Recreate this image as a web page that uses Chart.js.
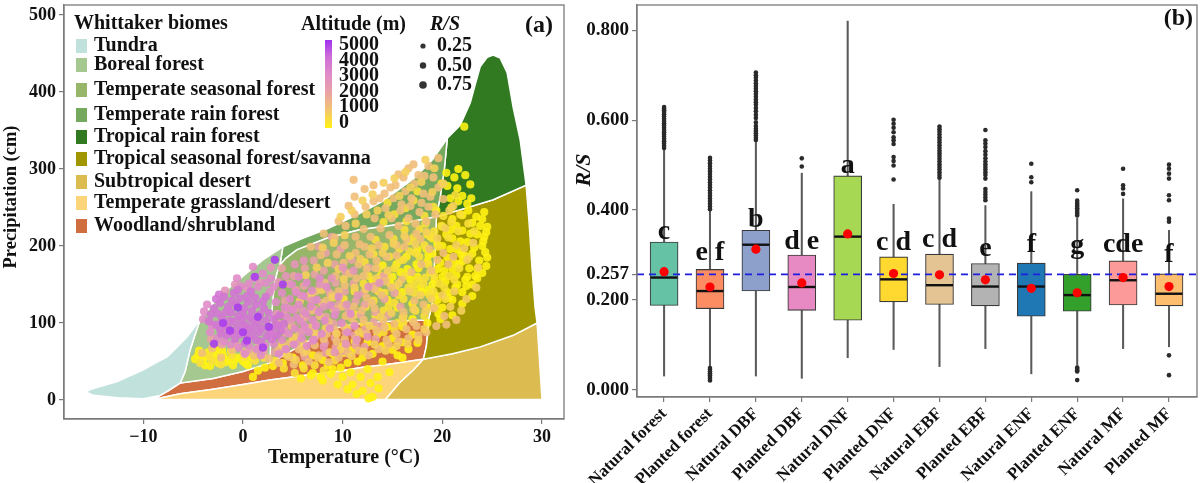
<!DOCTYPE html>
<html><head><meta charset="utf-8">
<script src="https://cdn.jsdelivr.net/npm/chart.js@4.4.0/dist/chart.umd.min.js"></script>
<style>
html,body{margin:0;padding:0;background:#fff;}
#wrap{position:relative;width:1200px;height:483px;overflow:hidden;}
#a{position:absolute;left:0;top:0;width:570px;height:483px;}
#b{position:absolute;left:570px;top:0;width:630px;height:483px;}
</style></head><body>
<div id="wrap"><div id="a"><canvas id="ca"></canvas></div><div id="b"><canvas id="cb"></canvas></div></div>
<script>
const SERIF = "'Liberation Serif','Times New Roman',serif";

// ---------- Panel (a) data ----------
const biomeNames = ['Tundra','Boreal forest','Temperate seasonal forest','Temperate rain forest','Tropical rain forest','Tropical seasonal forest/savanna','Subtropical desert','Temperate grassland/desert','Woodland/shrubland'];
const biomeColors = ['#C1E1DD','#A5C790','#97B669','#75A95E','#317A22','#A09700','#DCBB50','#FCD57A','#D16E3F'];

const tundraPoly = [[-10,1.5],[-12.6,3],[-15,6],[-15.7,10],[-15.5,12.5],[-15,15],[-12.6,24],[-10,39],[-8.8,48],[-7.6,56],[-6.5,70],[-5.6,82],[-4.3,104],[-4.8,85],[-5.3,65],[-5.8,37],[-6.3,22],[-7.5,12],[-8.3,6],[-10,1.5]];
const borealPoly = [[-6.3,22],[-5.8,37],[-5.3,65],[-4.8,85],[-4.3,104],[-2.9,127],[-2,139],[0.4,165],[2,182],[4.0,199],[3.7,175],[3.4,165],[3.1,145],[2.9,115],[2.8,85],[2.7,48],[0,37],[-3,28],[-6.3,22]];
const tempSeasonalPoly = [[2.7,48],[2.8,85],[2.9,115],[3.1,145],[3.4,165],[3.7,175],[4.3,184],[5.4,195],[8.4,210],[11.7,221],[15,227],[19.4,238],[19.3,200],[19.1,150],[19,126],[18.6,104],[16,103],[13,101],[11,98],[9,93],[7,80],[5,65],[2.7,48]];
const tempRainPoly = [[3.7,175],[4.0,199],[6,210],[8.4,222],[11.4,240],[14,258],[17.1,287],[19,312],[20.5,340],[20.2,300],[19.8,265],[19.4,238],[15,227],[11.7,221],[8.4,210],[5.4,195],[4.3,184],[3.7,175]];
const tropRainPoly = [[19.4,238],[19.8,265],[20.2,300],[20.5,340],[21.8,357],[22.8,386],[23.3,410],[23.8,433],[24.5,445],[25.1,448],[25.8,444],[26.5,425],[27.1,380],[27.8,338],[28.4,279],[25.1,260],[21.8,247],[19.4,238]];
const tropSeasonalPoly = [[19.4,238],[21.8,247],[25.1,260],[28.4,279],[28.7,230],[29,170],[29.3,120],[29.5,100],[27.1,84],[23.8,69],[21,60],[18.1,53],[18.4,70],[18.6,95],[18.6,104],[19,126],[19.1,150],[19.3,200],[19.4,238]];
const subtropDesertPoly = [[18.1,53],[21,60],[23.8,69],[27.1,84],[29.5,100],[29.7,60],[29.9,20],[30,0.5],[14.3,0.5],[15.7,22],[17.1,39],[18.1,53]];
const grasslandPoly = [[-9,0.5],[14.3,0.5],[15.7,22],[17.1,39],[18.1,53],[15,47],[11.7,42],[10,38],[5.7,31],[2.7,26],[0,20],[-3,14],[-6.3,8],[-9,0.5]];
const woodlandPoly = [[-9,0.5],[-6.3,8],[-3,14],[0,20],[2.7,26],[5.7,31],[10,38],[11.7,42],[15,47],[18.1,53],[18.4,70],[18.6,104],[16,103],[13,101],[11,98],[9,93],[7,80],[5,65],[2.7,48],[0,37],[-3,28],[-6.3,22],[-7.5,12],[-9,0.5]];
const biomePolys = [tundraPoly, borealPoly, tempSeasonalPoly, tempRainPoly, tropRainPoly, tropSeasonalPoly, subtropDesertPoly, grasslandPoly, woodlandPoly];

// sites: [temperature (°C), precipitation (cm)] grouped by altitude class
const ptsAlt0 = [[19,150],[20,160],[21,170],[22,180],[23,190],[24,200],[23.5,215],[24.5,225],[24,235],[23,230],[22,220],[21,210],[20,200],[19,190],[20.5,185],[21.5,195],[22.5,205],[23.5,170],[22.5,160],[21.5,150],[20.5,140],[19.5,130],[18.5,120],[20,120],[21,130],[22,140],[23,150],[24,165],[24.5,185],[22,240],[22.5,255],[22,265],[22.8,280],[21.5,275],[20.8,262],[22.2,355],[20.4,295],[21.6,300],[19.5,170],[18.5,180],[19,210],[20,225],[21,235],[17.5,160],[18,140],[17,125],[16.5,170],[17.5,195],[18.5,215],[16,140],[15,160],[14,175],[13,155],[14.5,130],[15.5,120],[17,105],[18.5,100],[16,95],[15,80],[14,70],[13,60],[12,55],[11,65],[10,70],[9,60],[8,52],[7,58],[6,65],[5,55],[4,48],[3,44],[12.5,75],[13.5,85],[14.5,95],[11,20],[12,12],[13,4],[10,30],[9,40],[8,25],[7,35],[6,45],[-4.5,58],[-4,52],[-3.5,62],[-3,55],[-2.5,48],[-2,58],[-1.5,52],[-1,45],[-0.5,55],[0,50],[-3.8,45],[-2.8,66],[-1.2,63],[0.5,45],[1.5,38],[2.2,42],[1,30],[10.5,48],[11.5,50],[12.5,40],[8.5,45],[15,65],[16,75],[17,85],[14,50],[16,55],[13.5,30],[15.5,100],[19.8,105],[21,110],[22,125],[23,135],
  [21.7,176],[22.7,171],[23.7,181],[24.3,192],[24.1,206],[24.4,218],[24.2,244],[23.8,226],[22.8,216],[21.8,206],[20.8,196],[19.8,178],[18.8,166],[17.8,146],[16.8,156],[15.8,166],[14.8,151],[13.8,161],[19.3,136],[20.3,154],[21.3,146],[22.3,156],[23.3,161],[21.9,189],[20.9,221],[19.4,246],[18.4,196],[17.4,176],[16.4,186],[15.4,176],[-4.8,53],[-3.7,56],[-2.7,59],[-1.7,49],[-0.8,52],[0.3,47],[-2.1,64],[-3.3,44],[-4.4,64],[0.8,55],[5.8,28],[6.8,32],[7.8,30],[8.8,34],[9.8,42],[10.8,36],[11.8,30],[12.8,22],[11.4,8],[12.6,2],[9.5,20],[10.5,14],[13.6,15],[14.7,36],[15.5,58],[16.6,66],[17.5,74],
  [19.2,156],[20.2,168],[21.2,178],[22.2,188],[23.2,198],[24.2,212],[23.4,238],[22.6,246],[21.4,226],[20.4,215],[19.5,202],[18.6,188],[17.6,171],[16.6,163],[21.4,162],[22.4,148],[23.5,158],[24.4,174],[20.6,133],[19.6,112],[18.6,143],[20.9,250],[21.6,258],[22.9,262],[20.5,278],[21.2,289],[22.3,292]];
const ptsAlt400 = [[15.2,171],[16.1,182],[17.3,191],[18.2,201],[17.1,211],[16.2,221],[15.1,209],[14.2,199],[13.1,189],[12.2,179],[13.3,208],[14.1,231],[15.2,241],[16.3,249],[17.1,259],[18.2,239],[19.1,251],[18.3,229],[19.2,219],[20.1,239],[16.2,161],[17.1,149],[18.3,159],[15.3,146],[14.2,139],[13.1,129],[12.3,121],[16.1,131],[17.2,139],[18.1,151],[19.2,161],[19.6,199],[20.6,211],[21.6,219],[12.1,151],[11.2,141],[10.1,131],[11.3,111],[12.1,99],[13.3,109],[14.1,116],[15.2,126],[16.1,109],[17.3,116],[18.2,109],[19.1,141],[20.2,146],[-3.1,51],[-2.2,46],[-1.1,58],[0.1,56],[1.2,51],[-4.3,48],[-3.4,57],[2.1,55],[3.2,51],[4.1,41],[5.2,35],[6.1,41],[7.2,45],[8.1,38],[9.2,51],[10.1,61],[11.2,76],[12.1,86],[13.2,96],[14.1,88],[15.2,91],[16.1,101],
  [14.6,161],[15.7,181],[16.7,193],[17.7,186],[18.6,176],[19.7,151],[20.7,161],[21.7,171],[22.7,186],[21.2,156],[20.3,131],[19.3,121],[18.7,136],[17.6,156],[16.6,146],[15.6,136],[14.6,121],[13.6,141],[12.6,161],[13.6,171],[14.7,186],[15.7,196],[16.7,206],[17.7,222],[18.8,212],[19.9,226],[20.9,231],[21.8,241],[22.6,229],[23.2,219],[16.4,232],[17.5,271],[14.5,256],[19.9,281],[21.3,266]];
const ptsAlt800 = [[4.4,58],[5.3,52],[6.4,63],[7.5,55],[8.7,62],[9.8,66],[10.9,57],[12.1,63],[13.2,72],[14.3,64],[15.4,70],[16.5,73],[17.6,78],[18.2,92],[3.9,72],[5.0,81],[6.1,74],[7.2,88],[8.3,93],[9.4,86],[10.5,93],[11.6,89],[12.7,96],[13.8,108],[14.9,113],[16.0,106],[17.1,118],[18.3,115],[5.7,128],[6.8,137],[7.9,143],[9.0,133],[10.1,157],[11.2,146],[12.3,144],[13.4,158],[14.5,168],[15.6,151],[16.7,141],[17.8,136],[18.9,131],[20.0,136],[6.3,162],[7.4,172],[8.5,178],[9.6,170],[10.7,187],[11.8,183],[12.9,197],[14.0,191],[15.1,203],[16.2,213],[17.3,202],[18.4,218],[19.5,210],[8.0,198],[9.1,204],[10.2,214],[11.3,229],[12.4,241],[13.5,246],[14.6,240],[15.7,265],[16.8,276],[17.9,283],[19.0,270],[20.1,281],[18.3,312],[19.2,301],[13.0,267],[14.1,282],[15.2,288],[16.3,296],[12.0,259],[10.9,246],[9.8,238],[20.7,246],[21.1,252],[20.3,223],[21.4,201],[22.2,197],[23.1,204],[22.5,182],[23.6,172],[21.2,141],[22.4,131],[23.4,146],[20.8,121],[21.9,116]];
const ptsAlt1200 = [[10.2,201],[11.3,212],[12.1,222],[13.2,236],[14.3,249],[15.1,262],[16.3,271],[17.2,281],[16.1,289],[15.3,279],[14.2,268],[13.1,258],[12.3,251],[11.2,241],[10.3,226],[9.2,211],[9.4,189],[10.1,178],[11.3,191],[12.2,199],[13.3,171],[12.1,161],[11.4,158],[10.2,149],[9.3,161],[8.2,152],[7.3,141],[8.4,129],[9.1,118],[10.3,109],[11.1,121],[12.4,133],[13.2,144],[14.3,154],[15.4,188],[16.2,199],[17.3,229],[18.1,268],[17.6,292],[19.1,289],[19.6,276],[20.1,261],[18.6,251],[17.7,244],[16.6,236],[15.6,226],[14.7,214],[13.6,201],[12.7,189],[11.6,176],[10.7,164],[9.6,141],[8.6,101],[7.7,109],[6.7,94],[5.6,84],[4.7,74],[3.6,66],[6.1,61],[7.2,71],[8.1,79],[9.2,91],[10.1,96],[11.2,99],[12.1,104],[13.2,119],[14.1,104],[15.2,99],[16.1,114],[17.2,129],[18.1,124],[19.1,119],[20.2,109],[20.6,176],[21.1,186],[20.1,191],[18.2,291],[13.1,279],[11.2,264],[8.1,216],[19.6,314],[16.6,301],[10.2,79],[5.1,46],[-4.1,61],[-3.1,67],[-2.2,55],[-1.1,65],[0.1,62],[1.1,58],[14.2,94],[17.1,101],
  [13.7,262],[14.8,276],[15.9,254],[16.9,262],[17.9,256],[18.8,264],[19.3,241],[18.4,232],[17.4,216],[16.4,209],[15.4,201],[14.4,186],[13.4,181],[12.4,170],[11.7,202],[12.8,212],[13.8,223],[14.9,236],[15.8,246],[16.8,252],[17.8,209],[18.7,196],[19.5,182],[18.9,168],[17.9,176],[16.9,166],[15.9,156],[14.9,146],[13.9,136],[12.9,126],[11.9,116],[10.9,106],[9.9,121],[8.9,136],[7.9,126],[6.9,116],[5.9,106],[4.9,96],[8.4,86],[9.4,76],[10.4,70],[11.4,80],[12.4,86],[13.4,90],[14.4,78],[15.4,86],[16.4,92],[17.4,96],[18.4,88],[19.4,96],[20.4,98],[21.4,104],[2.6,54],[3.6,48],[4.6,56],[5.6,66],[6.6,50],[7.6,58],[8.6,49],[9.6,55],[10.6,60],[11.6,64],[12.6,58],[13.6,66],[14.6,72],[15.6,76],[16.6,80],[17.6,84],[11.1,286],[12.2,274],[15.6,293],[17.1,306],[18.6,304],[9.6,232],[10.6,252],[7.8,188],[6.8,199]];
const ptsAlt2000 = [[4.2,129],[5.3,143],[6.1,148],[7.2,163],[8.1,168],[9.3,152],[10.2,141],[11.3,128],[12.1,139],[13.2,148],[5.2,118],[6.3,107],[7.2,118],[8.3,108],[9.1,99],[10.3,88],[11.2,84],[12.3,92],[13.1,101],[6.2,92],[7.3,83],[8.2,74],[9.3,68],[10.1,64],[5.4,76],[4.3,87],[3.6,99],[4.1,111],[7.1,181],[8.3,191],[9.2,176],[6.2,171],[5.1,161],[10.3,166],[11.1,151],[12.2,124],[13.3,114],[14.2,131],[14.1,161],[15.2,139],[3.2,62],[4.3,64],[2.1,63],[6.2,56],[8.3,61],[11.3,71],[12.2,69],[13.3,79],[9.2,81],[7.3,98],[6.6,133],[8.7,139],[9.6,124],[10.6,116],[4.6,151],[3.9,171],[7.6,199],[1.6,69],[0.7,64],[-0.6,71],[-2.1,72],[-3.2,79],[10.9,182],[12.6,172],[11.8,110],[14.6,110],[15.8,121],[9.8,196],[8.9,212],[13.8,96]];
const ptsAlt2600 = [[3.4,112],[4.6,119],[5.8,136],[6.9,129],[8.1,121],[9.3,115],[10.4,124],[11.5,136],[12.6,147],[13.7,152],[7.7,150],[8.9,158],[10.0,172],[11.1,168],[6.1,181],[5.2,176],[4.3,161],[3.6,153],[2.8,172],[1.7,152],[0.4,146],[-0.8,150],[-1.8,142],[5.9,89],[7.0,77],[8.1,69],[9.2,62],[10.3,73],[11.4,78],[12.5,82],[4.8,103],[6.0,116],[3.0,86],[4.1,92]];
const ptsAlt3000 = [[-3.6,124],[-3.1,96],[-2.6,80],[-1.9,76],[-1.2,72],[-0.4,68],[0.6,70],[1.4,66],[2.2,71],[3.1,73],[3.9,78],[4.6,86],[5.2,93],[5.8,102],[4.4,108],[5.0,117],[5.6,124],[6.3,112],[6.8,121],[7.4,130],[4.7,131],[3.9,139],[3.1,147],[2.3,152],[1.5,147],[0.6,151],[-0.2,148],[1.1,158],[2.0,164],[2.8,158],[5.3,140],[6.1,135],[6.9,142],[7.6,114],[8.2,103],[7.3,96],[6.6,88],[5.9,80],[5.1,72],[4.3,66],[6.4,70],[7.1,78],[7.9,86],[8.7,93],[9.2,110],[8.8,123],[9.6,134],[8.4,147],[7.7,158],[6.4,152],[5.6,160],[4.9,150],[-3.9,115],[-4.0,105],[-3.3,88],[0.2,60],[1.8,58],[3.6,60],[9.9,100],[10.5,88],[11.2,96],[10.8,112],[4.2,120],[5.4,107],[6.2,96],[7.0,104],[3.3,127],[2.7,140],[1.0,173],[-0.6,158]];
const ptsAlt3800 = [[-2.7,131],[-2.3,126],[-1.9,134],[-1.5,121],[-1.1,129],[-0.7,124],[-0.3,132],[0.1,119],[0.5,127],[0.9,116],[1.3,124],[1.7,111],[2.1,119],[-2.5,112],[-2.1,106],[-1.7,114],[-1.3,103],[-0.9,101],[-0.5,109],[-0.1,105],[0.3,97],[0.7,107],[1.1,95],[1.5,101],[1.9,93],[2.3,103],[2.7,89],[-1.5,93],[-1.1,87],[-0.7,91],[-0.3,85],[0.1,89],[0.5,81],[0.9,85],[1.3,78],[-2.9,119],[-3.2,111],[-2.4,137],[3.1,105],[3.5,97],[2.6,113],[0.4,135],[-0.9,139],[-1.9,97],[-2.3,92],[-0.2,97],[0.6,92],[1.6,88],[2.4,83],[3.0,94],[3.4,84],[1.2,133],[2.0,128],[-0.5,143],[0.8,141],[-1.6,84],[-0.8,79],[0.2,74],[1.8,76],[2.9,79],[-3.4,102],[-2.7,98],[-2.2,86],[3.8,90],[4.1,99],[3.7,110],[2.3,134],[-1.2,114],[0.0,112],[1.0,104]];
const ptsAlt4800 = [[-1.3,90],[-2.9,73],[2,68],[0.4,77],[3.2,182],[1.5,108],[-0.5,120],[2.6,95],[4,150],[1.2,160],[-2,100],[0,88]];

// drawing order: first listed is drawn at the bottom
const altGroupPts = [ptsAlt0, ptsAlt400, ptsAlt2000, ptsAlt1200, ptsAlt800, ptsAlt2600, ptsAlt3000, ptsAlt3800, ptsAlt4800];
const altGroupVals = [0, 400, 2000, 1200, 800, 2600, 3000, 3800, 4800];
const altTicks = [5000, 4000, 3000, 2000, 1000, 0];
const rsLegend = ['0.25', '0.50', '0.75'];
const xTicksA = [-10, 0, 10, 20, 30];
const yTicksA = [0, 100, 200, 300, 400, 500];

// altitude colour scale (colour bar stops)
const altStops = [[0,[255,242,20]],[1000,[243,198,110]],[2000,[233,163,165]],[3000,[224,140,200]],[4000,[208,112,214]],[5000,[160,50,240]]];
function altColor(a, alpha){
  for (let i=0;i<altStops.length-1;i++){
    const [a0,c0]=altStops[i],[a1,c1]=altStops[i+1];
    if (a<=a1){const f=(a-a0)/(a1-a0);const c=c0.map((v,k)=>Math.round(v+(c1[k]-v)*f));return `rgba(${c[0]},${c[1]},${c[2]},${alpha})`;}
  }
  const c=altStops[altStops.length-1][1];return `rgba(${c[0]},${c[1]},${c[2]},${alpha})`;
}

const dsA = [];
altGroupPts.forEach((pts,i)=>{
  dsA.push({type:'scatter', data: pts.map(([x,y])=>({x,y})), backgroundColor: altColor(altGroupVals[i],0.9), borderWidth:0, pointRadius:4.1, pointHoverRadius:4.1, order: 1 + (altGroupPts.length - i)});
});
biomePolys.forEach((poly,i)=>{
  dsA.push({type:'line', data: poly.map(([x,y])=>({x,y})), fill:'shape', backgroundColor: biomeColors[i], borderColor:'#ffffff', borderWidth:1.5, pointRadius:0, tension:0, order: 20 + i});
});

const frameA = {
  id:'frameA',
  afterDraw(chart){
    const {ctx, chartArea:a} = chart;
    ctx.save();
    ctx.strokeStyle='#7a7a7a'; ctx.lineWidth=1.3;
    ctx.strokeRect(a.left, a.top, a.right-a.left, a.bottom-a.top);
    ctx.fillStyle='#111'; ctx.textBaseline='middle'; ctx.textAlign='left';
    ctx.font = `bold 20px ${SERIF}`;
    ctx.fillText('Whittaker biomes', 74, 24);
    const rowsY = [46,65,90,115,137,159,182,203,226];
    biomeNames.forEach((n,i)=>{
      ctx.fillStyle = biomeColors[i];
      ctx.fillRect(76, rowsY[i]-7, 11, 14);
      ctx.fillStyle='#111';
      ctx.fillText(n, 94, rowsY[i]);
    });
    // altitude colour bar
    ctx.fillText('Altitude (m)', 301, 25);
    const g = ctx.createLinearGradient(0,128,0,40);
    altStops.forEach(([v,c])=>g.addColorStop(v/5000, `rgb(${c[0]},${c[1]},${c[2]})`));
    ctx.fillStyle = g; ctx.fillRect(325, 40, 7, 88);
    ctx.fillStyle='#111';
    altTicks.forEach((v,i)=>{ ctx.fillText(String(v), 339, 45 + i*15.5); });
    // R/S size legend
    ctx.font = `italic bold 20px ${SERIF}`;
    ctx.fillText('R/S', 430, 25);
    ctx.font = `bold 20px ${SERIF}`;
    const rr=[2.6,3.2,3.8];
    rsLegend.forEach((t,i)=>{
      ctx.fillStyle='#333'; ctx.beginPath(); ctx.arc(423, 46+i*19.5, rr[i], 0, Math.PI*2); ctx.fill();
      ctx.fillStyle='#111'; ctx.fillText(t, 437, 46+i*19.5);
    });
    ctx.font = `bold 24px ${SERIF}`;
    ctx.textAlign='right';
    ctx.fillText('(a)', 553, 26);
    // axis titles
    ctx.textAlign='center';
    ctx.font = `bold 20px ${SERIF}`;
    ctx.fillText('Temperature (\u00B0C)', 344, 458);
    ctx.translate(11, 197); ctx.rotate(-Math.PI/2);
    ctx.font = `bold 18.5px ${SERIF}`;
    ctx.fillText('Precipitation (cm)', 0, 0);
    ctx.restore();
  }
};

new Chart(document.getElementById('ca'), {
  type:'scatter',
  data:{datasets: dsA},
  options:{
    responsive:true, maintainAspectRatio:false, animation:false,
    layout:{autoPadding:false, padding:{top:5,right:6,left:0,bottom:0}},
    plugins:{legend:{display:false}, tooltip:{enabled:false}},
    scales:{
      x:{type:'linear', min:-17.95, max:32.2,
        afterBuildTicks:s=>{s.ticks = xTicksA.map(v=>({value:v}));},
        afterFit:s=>{s.height=64; s.paddingLeft=0; s.paddingRight=0;},
        ticks:{font:{family:SERIF,weight:'bold',size:18}, color:'#111', padding:3, callback:v=> v<0 ? '\u2212'+Math.abs(v) : String(v)},
        grid:{drawOnChartArea:false, drawTicks:true, tickLength:5, color:'#7a7a7a', lineWidth:1.2},
        border:{display:true, color:'#7a7a7a', width:1.3}
      },
      y:{type:'linear', min:-24.7, max:513,
        afterBuildTicks:s=>{s.ticks = yTicksA.map(v=>({value:v}));},
        afterFit:s=>{s.width=64; s.paddingTop=0; s.paddingBottom=0;},
        ticks:{font:{family:SERIF,weight:'bold',size:18}, color:'#111', padding:3},
        grid:{drawOnChartArea:false, drawTicks:true, tickLength:5, color:'#7a7a7a', lineWidth:1.2},
        border:{display:true, color:'#7a7a7a', width:1.3}
      }
    }
  },
  plugins:[frameA]
});

// ---------- Panel (b) data ----------
const groups = ['Natural forest','Planted forest','Natural DBF','Planted DBF','Natural DNF','Planted DNF','Natural EBF','Planted EBF','Natural ENF','Planted ENF','Natural MF','Planted MF'];
const boxColors = ['#66C2A5','#FC8D62','#8DA0CB','#E78AC3','#A6D854','#FFD92F','#E5C494','#B3B3B3','#1F78B4','#33A02C','#FB9A99','#FDBF6F'];
const q1 =        [0.188,0.181,0.220,0.177,0.155,0.196,0.190,0.187,0.164,0.175,0.189,0.187];
const q3 =        [0.329,0.268,0.355,0.300,0.476,0.296,0.302,0.281,0.282,0.257,0.287,0.258];
const medians =   [0.250,0.220,0.323,0.229,0.341,0.246,0.233,0.230,0.230,0.211,0.244,0.214];
const means =     [0.263,0.229,0.313,0.238,0.347,0.259,0.256,0.245,0.226,0.216,0.250,0.230];
const whiskLow =  [0.031,0.052,0.031,0.026,0.072,0.090,0.052,0.092,0.036,0.055,0.092,0.096];
const whiskHigh = [0.535,0.398,0.552,0.482,0.820,0.413,0.468,0.410,0.441,0.382,0.425,0.355];
const outNF   = [0.538,0.543,0.548,0.553,0.558,0.563,0.568,0.573,0.578,0.583,0.588,0.593,0.598,0.603,0.608,0.613,0.618,0.622,0.626,0.629];
const outPF   = [0.402,0.408,0.414,0.420,0.426,0.432,0.438,0.444,0.450,0.456,0.462,0.468,0.474,0.480,0.486,0.492,0.498,0.504,0.510,0.516,0.021,0.025,0.029,0.033,0.037,0.041,0.045,0.049];
const outNDBF = [0.556,0.561,0.566,0.571,0.576,0.581,0.587,0.595,0.605,0.612,0.620,0.627,0.634,0.640,0.646,0.652,0.658,0.664,0.670,0.676,0.682,0.688,0.694,0.700,0.706];
const outPDBF = [0.497,0.515];
const outNDNF = [];
const outPDNF = [0.468,0.499,0.509,0.518,0.547,0.555,0.562,0.573,0.583,0.592,0.601];
const outNEBF = [0.472,0.478,0.484,0.490,0.496,0.502,0.508,0.514,0.520,0.526,0.532,0.538,0.544,0.550,0.556,0.562,0.568,0.574,0.580,0.586];
const outPEBF = [0.422,0.428,0.434,0.440,0.447,0.470,0.478,0.484,0.490,0.496,0.502,0.508,0.515,0.523,0.531,0.540,0.548,0.555,0.578];
const outNENF = [0.462,0.473,0.503];
const outPENF = [0.388,0.392,0.396,0.400,0.404,0.408,0.412,0.416,0.421,0.444,0.041,0.044,0.047,0.050,0.022];
const outNMF  = [0.436,0.448,0.455,0.492];
const outPMF  = [0.374,0.381,0.422,0.433,0.470,0.481,0.492,0.501,0.077,0.033];
const outliers = [outNF,outPF,outNDBF,outPDBF,outNDNF,outPDNF,outNEBF,outPEBF,outNENF,outPENF,outNMF,outPMF];
const letters =    ['c','e f','b','d e','a','c d','c d','e','f','g','cde','f'];
const letterBase = [0.335,0.290,0.362,0.313,0.482,0.311,0.317,0.298,0.307,0.305,0.307,0.285];
const refValue = 0.257;
const yTicksB = [0, 0.2, 0.257, 0.4, 0.6, 0.8];

const dsB = [
  {type:'scatter', label:'mean', data: means.map((m,i)=>({x:i,y:m})), backgroundColor:'#FF0000', borderWidth:0, pointRadius:4.6, order:0},
  {type:'line', label:'ref', data:[{x:-0.59,y:refValue},{x:11.61,y:refValue}], borderColor:'#1f1fe0', borderWidth:1.8, borderDash:[7,5], pointRadius:0, fill:false, order:1},
  {type:'scatter', label:'median', data: medians.map((m,i)=>({x:i,y:m})), pointStyle:'line', pointRadius:13.5, borderColor:'#111', borderWidth:2.4, backgroundColor:'#111', order:2},
  {type:'scatter', label:'outliers', data: outliers.flatMap((arr,i)=>arr.map(v=>({x:i,y:v}))), backgroundColor:'#2a2a2a', borderWidth:0, pointRadius:2.3, order:3},
  {type:'bar', label:'box', data: groups.map((g,i)=>({x:i,y:[q1[i],q3[i]]})), backgroundColor: boxColors, borderColor:'#3a3a3a', borderWidth:1.1, borderSkipped:false, barThickness:28, grouped:false, order:4},
  {type:'bar', label:'whisker', data: groups.map((g,i)=>({x:i,y:[whiskLow[i],whiskHigh[i]]})), backgroundColor:'#5a5a5a', borderWidth:0, barThickness:1.4, grouped:false, order:5}
];

const frameB = {
  id:'frameB',
  afterDraw(chart){
    const {ctx, chartArea:a, scales} = chart;
    ctx.save();
    ctx.strokeStyle='#7a7a7a'; ctx.lineWidth=1.3;
    ctx.strokeRect(a.left, a.top, a.right-a.left, a.bottom-a.top);
    ctx.fillStyle='#111'; ctx.textAlign='center'; ctx.textBaseline='alphabetic';
    ctx.font = `bold 28px ${SERIF}`;
    letters.forEach((t,i)=>{ ctx.fillText(t, scales.x.getPixelForValue(i), scales.y.getPixelForValue(letterBase[i])); });
    ctx.font = `bold 24px ${SERIF}`;
    ctx.textAlign='right'; ctx.textBaseline='middle';
    ctx.fillText('(b)', 623, 19);
    ctx.translate(14, 170); ctx.rotate(-Math.PI/2);
    ctx.textAlign='center';
    ctx.font = `italic bold 22px ${SERIF}`;
    ctx.fillText('R/S', 0, 0);
    ctx.restore();
  }
};

new Chart(document.getElementById('cb'), {
  type:'bar',
  data:{datasets: dsB},
  options:{
    responsive:true, maintainAspectRatio:false, animation:false,
    layout:{autoPadding:false, padding:{top:5,right:3,left:0,bottom:0}},
    plugins:{legend:{display:false}, tooltip:{enabled:false}},
    scales:{
      x:{type:'linear', min:-0.59, max:11.61, offset:false,
        afterBuildTicks:s=>{s.ticks = groups.map((g,i)=>({value:i}));},
        afterFit:s=>{s.height=86; s.paddingLeft=0; s.paddingRight=0;},
        ticks:{font:{family:SERIF,weight:'bold',size:17}, color:'#111', padding:2, autoSkip:false, minRotation:45, maxRotation:45, callback:v=>groups[v]},
        grid:{drawOnChartArea:false, drawTicks:true, tickLength:5, color:'#7a7a7a', lineWidth:1.2, offset:false},
        border:{display:true, color:'#7a7a7a', width:1.3}
      },
      y:{type:'linear', min:-0.0156, max:0.856,
        afterBuildTicks:s=>{s.ticks = yTicksB.map(v=>({value:v}));},
        afterFit:s=>{s.width=67; s.paddingTop=0; s.paddingBottom=0;},
        ticks:{font:{family:SERIF,weight:'bold',size:19}, color:'#111', padding:3, callback:v=>Number(v).toFixed(3)},
        grid:{drawOnChartArea:false, drawTicks:true, tickLength:5, color:'#7a7a7a', lineWidth:1.2},
        border:{display:true, color:'#7a7a7a', width:1.3}
      }
    }
  },
  plugins:[frameB]
});
</script>
</body></html>
